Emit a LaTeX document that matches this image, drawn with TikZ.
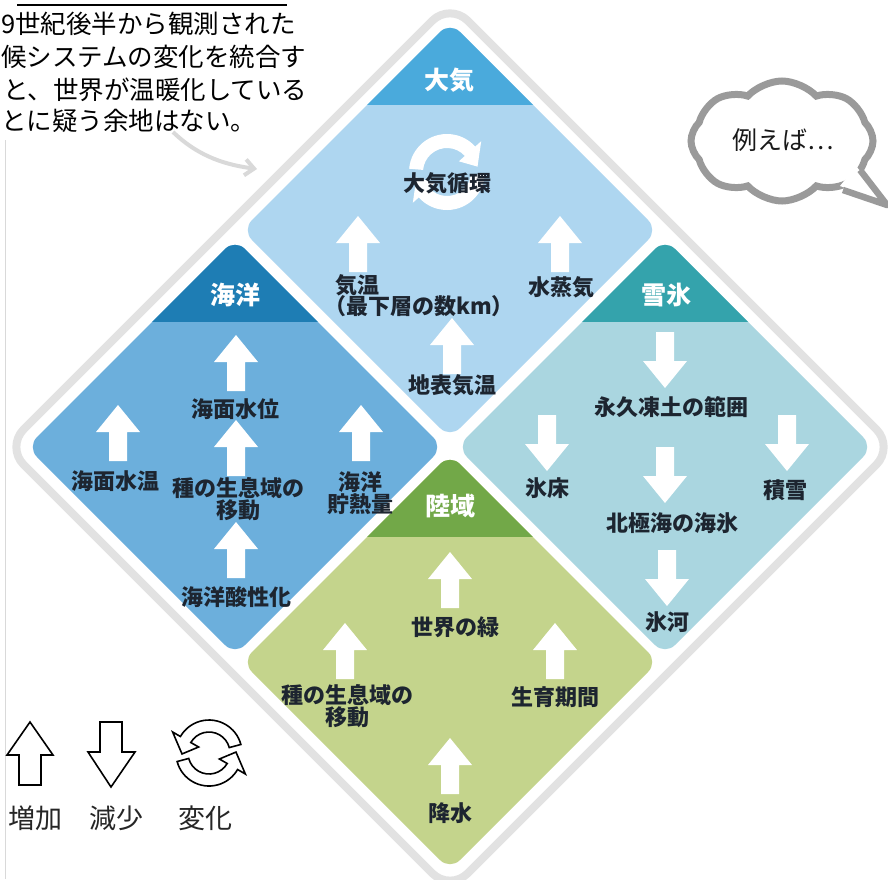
\documentclass[tikz,border=0pt]{standalone}
\usepackage{fontspec}
\newfontfamily\jp{Noto Sans CJK JP}
\usetikzlibrary{shapes.symbols,calc,arrows.meta}
\definecolor{atmB}{HTML}{AED6F0}
\definecolor{atmH}{HTML}{4AAADC}
\definecolor{ocnB}{HTML}{6CAFDC}
\definecolor{ocnH}{HTML}{1E7DB4}
\definecolor{iceB}{HTML}{AAD6E0}
\definecolor{iceH}{HTML}{34A3AC}
\definecolor{lndB}{HTML}{C4D48C}
\definecolor{lndH}{HTML}{72A848}
\definecolor{lblc}{HTML}{1D2530}
\definecolor{framec}{HTML}{E2E2E2}
\definecolor{bubc}{HTML}{9A9A9A}
\newcommand\dmd[4]{%
 \begin{scope}
 \clip[rounded corners=14] (#1,#2-208) -- (#1+208,#2) -- (#1,#2+208) -- (#1-208,#2) -- cycle;
 \fill[#3] (#1-210,#2-210) rectangle (#1+210,#2+210);
 \fill[#4] (#1-210,#2-210) rectangle (#1+210,#2-125);
 \end{scope}}
\newcommand\uparrw[2]{\fill[white] (#1,#2) -- (#1+22,#2+27) -- (#1+9,#2+27) -- (#1+9,#2+56) -- (#1-9,#2+56) -- (#1-9,#2+27) -- (#1-22,#2+27) -- cycle;}
\newcommand\dnarrw[2]{\fill[white] (#1-9,#2) -- (#1+9,#2) -- (#1+9,#2+29) -- (#1+22,#2+29) -- (#1,#2+56) -- (#1-22,#2+29) -- (#1-9,#2+29) -- cycle;}
\newcommand\curvarr[9]{%
 \pgfmathsetmacro\rOut{#4+#5}\pgfmathsetmacro\rIn{#4-#5}%
 \pgfmathsetmacro\rHo{#4+#6}\pgfmathsetmacro\rHi{#4-#6}%
 \path[#1] (#2,#3) ++(#7:\rOut) arc[start angle=#7, end angle=#8, radius=\rOut]
  -- ($(#2,#3)+(#8:\rHo)$) -- ($(#2,#3)+(#9:#4)$) -- ($(#2,#3)+(#8:\rHi)$)
  -- ($(#2,#3)+(#8:\rIn)$) arc[start angle=#8, end angle=#7, radius=\rIn] -- cycle;}
\begin{document}
\begin{tikzpicture}[x=1pt,y=-1pt,
  lbl/.style={font=\jp\bfseries\fontsize{22}{22}\selectfont, text=lblc, inner sep=0pt, align=center},
  hdr/.style={font=\jp\bfseries\fontsize{25}{28}\selectfont, text=white, inner sep=0pt},
  intro/.style={font=\jp\fontsize{25.5}{30}\selectfont, text=black, inner sep=0pt, anchor=west},
  leg/.style={font=\jp\fontsize{27}{30}\selectfont, text=black!85, inner sep=0pt},
  legarr/.style={draw=black, line width=1.6pt, fill=white, line join=miter}]
\useasboundingbox (0,0) rectangle (888,879);
\fill[white] (0,0) rectangle (888,879);
% page edge line
\draw[gray!30, line width=1pt] (5,140) -- (5,879);
% outer frame
\draw[framec, line width=8pt, rounded corners=25] (450,3) -- (894,447) -- (450,891) -- (6,447) -- cycle;
% four diamonds
\dmd{450}{230}{atmB}{atmH}
\dmd{235}{447}{ocnB}{ocnH}
\dmd{665}{447}{iceB}{iceH}
\dmd{450}{662}{lndB}{lndH}
% headers
\node[hdr] (hAtm) at (449,80) {大気};
\node[hdr] (hOcn) at (235,295) {海洋};
\node[hdr] (hIce) at (666,295) {雪氷};
\node[hdr] (hLnd) at (450,506) {陸域};
% atmosphere
\curvarr{fill=white}{447}{172}{31}{7}{15}{185}{318}{350}
\curvarr{fill=white}{447}{172}{31}{7}{15}{5}{138}{170}
\node[lbl] (aCirc) at (447,183) {大気循環};
\uparrw{358}{216}
\uparrw{560}{216}
\uparrw{452}{318}
\node[lbl, anchor=west] (aTemp) at (335,285) {気温};
\node[lbl, anchor=west] (aTemp2) at (324,306) {（最下層の数km）};
\node[lbl] (aVap) at (561,287) {水蒸気};
\node[lbl] (aSurf) at (452,385) {地表気温};
% ocean
\uparrw{118}{405}
\uparrw{236}{335}
\uparrw{236}{420}
\uparrw{236}{522}
\uparrw{361}{405}
\node[lbl] (oSST) at (115,481) {海面水温};
\node[lbl] (oSL) at (235,409) {海面水位};
\node[lbl] (oSp) at (238,499) {種の生息域の\\移動};
\node[lbl] (oAc) at (236,597) {海洋酸性化};
\node[lbl] (oHt) at (360,493) {海洋\\貯熱量};
% cryosphere
\dnarrw{665}{332}
\dnarrw{547}{415}
\dnarrw{665}{447}
\dnarrw{787}{415}
\dnarrw{667}{550}
\node[lbl] (iPf) at (671,407) {永久凍土の範囲};
\node[lbl] (iSh) at (547,488) {氷床};
\node[lbl] (iSe) at (672,523) {北極海の海氷};
\node[lbl] (iSn) at (785,490) {積雪};
\node[lbl] (iGl) at (667,622) {氷河};
% land
\uparrw{450}{552}
\uparrw{345}{623}
\uparrw{555}{623}
\uparrw{450}{738}
\node[lbl] (lGr) at (455,627) {世界の緑};
\node[lbl] (lSp) at (347,706) {種の生息域の\\移動};
\node[lbl] (lGs) at (555,697) {生育期間};
\node[lbl] (lPr) at (450,813) {降水};
% intro text
\draw[black, line width=1.5pt] (17,5) -- (287,5);
\node[intro] (t1) at (1,24) {9世紀後半から観測された};
\node[intro] (t2) at (1,57) {候システムの変化を統合す};
\node[intro] (t3) at (3,90) {と、世界が温暖化している};
\node[intro] (t4) at (1,121) {とに疑う余地はない。};
\coordinate (arrS) at (173,132);
\coordinate (arrE) at (257,169);
\draw[gray!30, line width=4pt, -{Straight Barb[length=9pt,width=16pt]}] (arrS) .. controls (200,158) and (228,165) .. (arrE);
% speech bubble
\node[cloud, cloud puffs=8, cloud puff arc=95, aspect=1.55, draw=bubc, line width=7pt, fill=white,
      minimum width=182pt, minimum height=120pt, inner sep=0pt] (bub) at (782,141) {};
\fill[white] (856,166) -- (886,203) -- (840,186) -- cycle;
\coordinate (tailA) at (860,170);
\coordinate (tailT) at (887,205);
\coordinate (tailB) at (843,190);
\draw[bubc, line width=6.5pt, line join=round] (tailA) -- (tailT) -- (tailB);
\node[font=\jp\fontsize{25}{28}\selectfont, text=black!90] (bt) at (783,140) {例えば…};
% legend
\path[legarr] (30,722) -- (53,755) -- (41,755) -- (41,785) -- (19,785) -- (19,755) -- (7,755) -- cycle;
\path[legarr] (100,722) -- (122,722) -- (122,752) -- (135,752) -- (111,787) -- (88,752) -- (100,752) -- cycle;
\curvarr{legarr}{209}{753}{27}{6}{15}{-15}{-150}{-182}
\curvarr{legarr}{209}{753}{27}{6}{15}{165}{30}{-2}
\node[leg] (g1) at (36,818) {増加};
\node[leg] (g2) at (116,818) {減少};
\node[leg] (g3) at (205,818) {変化};
\end{tikzpicture}
\end{document}
